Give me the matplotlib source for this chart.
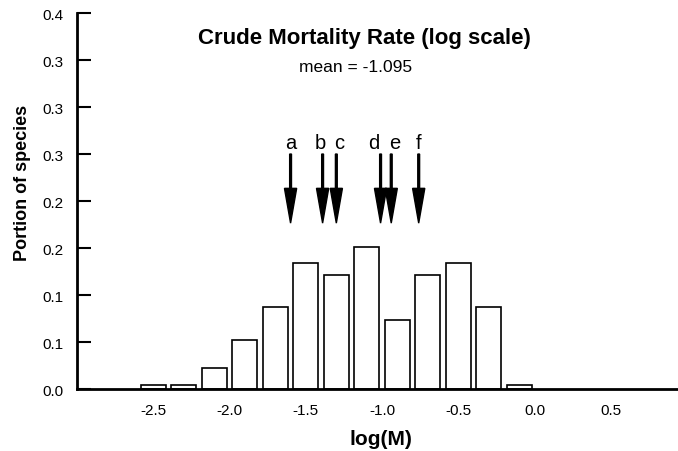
import matplotlib
matplotlib.use("Agg")
import matplotlib.pyplot as plt

plt.rcParams['font.family'] = ['Liberation Sans', 'DejaVu Sans']

# histogram of log(M), bins of width 0.2
bin_centers = [-2.5, -2.3, -2.1, -1.9, -1.7, -1.5, -1.3, -1.1, -0.9, -0.7, -0.5, -0.3, -0.1]
portions = [0.0045, 0.0045, 0.022, 0.052, 0.087, 0.134, 0.121, 0.151, 0.074, 0.121, 0.134, 0.087, 0.0045]

# marked species (arrow positions and where the letters sit)
arrow_labels = ['a', 'b', 'c', 'd', 'e', 'f']
arrow_x = [-1.60, -1.39, -1.30, -1.01, -0.94, -0.76]
label_x = [-1.596, -1.406, -1.282, -1.052, -0.915, -0.764]

mean_val = -1.095

yticks = [0.0, 0.05, 0.10, 0.15, 0.20, 0.25, 0.30, 0.35, 0.40]
ytick_labels = ['0.0', '0.1', '0.1', '0.2', '0.2', '0.3', '0.3', '0.3', '0.4']
xticks = [-2.5, -2.0, -1.5, -1.0, -0.5, 0.0, 0.5]
xtick_labels = ['-2.5', '-2.0', '-1.5', '-1.0', '-0.5', '0.0', '0.5']

fig = plt.figure(figsize=(6.78, 4.52), dpi=100)
ax = fig.add_axes([0.1136, 0.137, 0.8864, 0.832])

ax.bar(bin_centers, portions, width=0.164, color='white', edgecolor='black', linewidth=1.2, zorder=2)

# arrows pointing down at each species
for x in arrow_x:
    ax.arrow(x, 0.250, 0, -0.0735, width=0.012, head_width=0.08, head_length=0.037,
             length_includes_head=True, fc='black', ec='black', zorder=3)
for lab, x in zip(arrow_labels, label_x):
    ax.text(x, 0.2565, lab, ha='center', va='baseline', fontsize=14.5)

ax.text(-1.118, 0.368, 'Crude Mortality Rate (log scale)', ha='center', va='baseline',
        fontsize=16, fontweight='bold')
ax.text(-1.177, 0.338, 'mean = %.3f' % mean_val, ha='center', va='baseline', fontsize=12.5)

ax.set_xlim(-3.0, 0.94)
ax.set_ylim(0, 0.4)
ax.set_yticks(yticks)
ax.set_yticklabels(ytick_labels)
ax.set_xticks(xticks)
ax.set_xticklabels(xtick_labels)
ax.tick_params(axis='y', direction='in', length=10, width=1.5, labelsize=11, pad=10)
ax.tick_params(axis='x', length=0, labelsize=11, pad=10)

for s in ['top', 'right']:
    ax.spines[s].set_visible(False)
for s in ['left', 'bottom']:
    ax.spines[s].set_linewidth(2)

ax.set_xlabel('log(M)', fontsize=15, fontweight='bold', va='top')
ax.xaxis.set_label_coords(0.506, -0.106)
ax.set_ylabel('Portion of species', fontsize=13, fontweight='bold')
ax.yaxis.set_label_coords(-0.077, 0.55)

fig.savefig('out.png', dpi=100)
